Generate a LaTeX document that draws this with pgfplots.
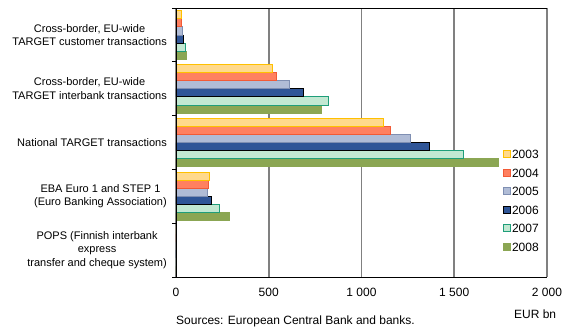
\documentclass[border=0pt]{standalone}
\usepackage{pgfplots}
\pgfplotsset{compat=1.18}
\usepackage{fontspec}
\setmainfont{Liberation Sans}
\definecolor{f03}{HTML}{FFD98C}\definecolor{d03}{HTML}{FFC000}
\definecolor{f04}{HTML}{FF8060}\definecolor{d04}{HTML}{F25A36}
\definecolor{f05}{HTML}{B0BCD6}\definecolor{d05}{HTML}{7F8FB2}
\definecolor{f06}{HTML}{2F5597}\definecolor{d06}{HTML}{000000}
\definecolor{f07}{HTML}{C2E8D2}\definecolor{d07}{HTML}{1F9E7A}
\definecolor{f08}{HTML}{8BA653}\definecolor{d08}{HTML}{8BA653}
\definecolor{gridgray}{HTML}{808080}
\begin{document}
\begin{tikzpicture}
\begin{axis}[
  scale only axis, width=371pt, height=269pt,
  xbar=0pt, bar width=8.1pt,
  xmin=0, xmax=2000, ymin=-0.5, ymax=4.5,
  y dir=reverse,
  clip=false,
  axis line style={draw=none},
  xmajorgrids, grid style={gridgray, line width=1.6pt},
  xtick={0,500,1000,1500,2000},
  xtick style={draw=none},
  xticklabel style={font=\fontsize{12}{14}\selectfont, inner sep=0pt, anchor=north, yshift=-11pt},
  /pgf/number format/assume math mode=true,
  /pgf/number format/1000 sep={\ },
  ytick={0,1,2,3,4},
  yticklabels={{Cross-border, EU-wide\\TARGET customer transactions},
               {Cross-border, EU-wide\\TARGET interbank transactions},
               {National TARGET transactions},
               {EBA Euro 1 and STEP 1\\(Euro Banking Association)},
               {POPS (Finnish interbank\\express\\transfer and cheque system)}},
  yticklabel style={font=\fontsize{11}{13.5}\selectfont, align=center, inner sep=0pt, anchor=east, xshift=-9pt},
  minor ytick={-0.5,0.5,1.5,2.5,3.5,4.5},
  ytick pos=left,
  tick align=outside,
  major tick length=0pt, minor tick length=4pt,
  minor tick style={black, line width=0.8pt},
  legend image code/.code={\draw[#1, line width=0.8pt] (0pt,-3.6pt) rectangle (7.2pt,3.6pt);},
  legend style={draw=none, fill=none, at={(0.881,0.478)}, anchor=north west,
    font=\fontsize{12}{14}\selectfont, row sep=7.5pt, inner sep=0pt,
    nodes={inner sep=1pt, text height=9pt, text depth=0pt}},
  legend cell align=left,
  reverse legend,
]
\addplot[fill=f08, draw=d08, line width=0.8pt] coordinates {(58,0) (782,1) (1740,2) (288,3) (3,4)};
\addplot[fill=f07, draw=d07, line width=0.8pt] coordinates {(50,0) (821,1) (1548,2) (234,3) (3,4)};
\addplot[fill=f06, draw=d06, line width=0.8pt] coordinates {(40,0) (686,1) (1366,2) (191,3) (3,4)};
\addplot[fill=f05, draw=d05, line width=0.8pt] coordinates {(36,0) (611,1) (1265,2) (169,3) (3,4)};
\addplot[fill=f04, draw=d04, line width=0.8pt] coordinates {(30,0) (540,1) (1157,2) (173,3) (3,4)};
\addplot[fill=f03, draw=d03, line width=0.8pt] coordinates {(27,0) (518,1) (1117,2) (180,3) (3,4)};
\legend{2008,2007,2006,2005,2004,2003}
\draw[black, line width=0.8pt] (axis description cs:0,0) -- (axis description cs:0,1) -- (axis description cs:1,1);
\draw[black, line width=0.8pt] (axis description cs:0,0) -- (axis description cs:1,0);
\node[anchor=base, font=\fontsize{12}{14}\selectfont, inner sep=0pt] at ([yshift=-41pt]axis description cs:0.968,0) {EUR bn};
\node[anchor=base west, font=\fontsize{12}{14}\selectfont, inner sep=0pt] at ([yshift=-47pt]axis description cs:0,0) {Sources: European Central Bank and banks.};
\path ([xshift=-176pt,yshift=-54pt]axis description cs:0,0) rectangle ++(568pt,331pt);
\end{axis}
\end{tikzpicture}
\end{document}
